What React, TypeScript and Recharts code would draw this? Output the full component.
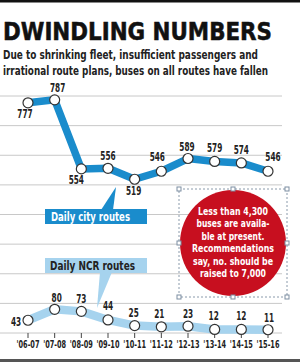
import React from "react";
import { LineChart, Line, XAxis, YAxis, CartesianGrid, LabelList } from "recharts";

const years = ["'06-07", "'07-08", "'08-09", "'09-10", "'10-11", "'11-12", "'12-13", "'13-14", "'14-15", "'15-16"];
const cityRoutes = [777, 787, 554, 556, 519, 546, 589, 579, 574, 546];
const ncrRoutes = [43, 80, 73, 44, 25, 21, 23, 12, 12, 11];
const yTicks = [0, 100, 200, 300, 400, 500, 600, 700, 800];

const data = years.map((year, i) => ({ year, city: cityRoutes[i], ncr: ncrRoutes[i] }));

const FONT = "'Liberation Sans Narrow', 'Arial Narrow', 'DejaVu Sans Condensed', sans-serif";
const CITY_BLUE = "#1a8ccc";
const NCR_BLUE = "#a6d3ee";

// label offsets (styling)
const cityDx = [-3, 3, -5, 0, -1, -4, -1, 0, 0, 5];
const cityDy = [15, -8, 15, -8, 16, -10, -8, -9, -9, -10];
const ncrDx = [-12, 2, 0, 0, -1, -2, 0, -1, 0, 1];
const ncrDy = [6, -7, -8, -10, -9, -9, -8, -9, -9, -8];

const makeLabel = (dx: number[], dy: number[]) => (props: any) => {
  const { x, y, value, index } = props;
  const s = String(value);
  return (
    <text
      x={x + dx[index]}
      y={y + dy[index]}
      textAnchor="middle"
      fontFamily={FONT}
      fontWeight="bold"
      fontSize={11.5}
      fill="#222"
      textLength={s.length * 5.1}
      lengthAdjust="spacingAndGlyphs"
    >
      {s}
    </text>
  );
};

const YearTick = (props: any) => {
  const { x, y, payload } = props;
  return (
    <text x={x} y={y + 8} textAnchor="middle" fontFamily={FONT} fontWeight="bold" fontSize={10}
      fill="#222" textLength={23} lengthAdjust="spacingAndGlyphs">
      {payload.value}
    </text>
  );
};

const noteLines = [
  "Less than 4,300",
  "buses are availa-",
  "ble at present.",
  "Recommendations",
  "say, no. should be",
  "raised to 7,000",
];
const noteWidths = [70, 73, 63, 82, 80, 66];

function Overlay() {
  const handles: [number, number][] = [
    [179, 189], [233, 189], [287, 189],
    [179, 243], [287, 243],
    [179, 297], [233, 297], [287, 297],
  ];
  return (
    <svg width={300} height={362} style={{ position: "absolute", left: 0, top: 0, pointerEvents: "none" }}>
      <rect x={0} y={0} width={300} height={2.5} fill="#111" />
      <rect x={0} y={359} width={300} height={3} fill="#555" />
      <text x={3} y={40} fontFamily={FONT} fontWeight="bold" fontSize={25} fill="#111" stroke="#111" strokeWidth={0.5}
        textLength={269} lengthAdjust="spacingAndGlyphs">DWINDLING NUMBERS</text>
      <text x={3} y={59} fontFamily={FONT} fontWeight="bold" fontSize={11.8} fill="#222"
        textLength={255} lengthAdjust="spacingAndGlyphs">Due to shrinking fleet, insufficient passengers and</text>
      <text x={3} y={75} fontFamily={FONT} fontWeight="bold" fontSize={11.8} fill="#222"
        textLength={265} lengthAdjust="spacingAndGlyphs">irrational route plans, buses on all routes have fallen</text>

      {/* city callout */}
      <polygon points="101,210 113,210 116,187" fill={CITY_BLUE} />
      <rect x={45} y={209} width={102} height={15} fill={CITY_BLUE} />
      <text x={51} y={221} fontFamily={FONT} fontWeight="bold" fontSize={12} fill="#fff"
        textLength={79} lengthAdjust="spacingAndGlyphs">Daily city routes</text>

      {/* NCR callout */}
      <polygon points="100,272 112,272 97,308" fill={NCR_BLUE} />
      <rect x={45} y={258} width={102} height={15} fill={NCR_BLUE} />
      <text x={50} y={270} fontFamily={FONT} fontWeight="bold" fontSize={12} fill="#222"
        textLength={85} lengthAdjust="spacingAndGlyphs">Daily NCR routes</text>

      {/* note */}
      <circle cx={233} cy={243} r={53} fill="#c70f1f" />
      {noteLines.map((t, i) => (
        <text key={i} x={233} y={215 + i * 12.4} textAnchor="middle" fontFamily={FONT} fontWeight="bold"
          fontSize={11.2} fill="#fff" textLength={noteWidths[i]} lengthAdjust="spacingAndGlyphs">{t}</text>
      ))}
      <rect x={179} y={189} width={108} height={108} fill="none" stroke="#8a9aab" strokeWidth={1} strokeDasharray="2 2" />
      {handles.map(([hx, hy], i) => (
        <rect key={i} x={hx - 2} y={hy - 2} width={4} height={4} fill="#fff" stroke="#7c8ea2" strokeWidth={1} />
      ))}
    </svg>
  );
}

export default function App() {
  return (
    <div style={{ position: "absolute", left: 0, top: 0, width: 300, height: 362, background: "#fff" }}>
      <LineChart width={300} height={362} data={data} margin={{ top: 96, right: 18, left: 0, bottom: 0 }}>
        <CartesianGrid vertical={false} stroke="#c8c8c8" strokeWidth={1} />
        <YAxis hide domain={[0, 800]} ticks={yTicks} />
        <XAxis
          dataKey="year"
          interval={0}
          height={29}
          padding={{ left: 28, right: 14 }}
          axisLine={false}
          tickSize={5}
          tickLine={{ stroke: "#444", strokeWidth: 1 }}
          tick={<YearTick />}
        />
        <Line
          dataKey="ncr"
          stroke={NCR_BLUE}
          strokeWidth={8.5}
          isAnimationActive={false}
          dot={{ r: 5, fill: "#fff", stroke: "#333", strokeWidth: 1.2 }}
          strokeLinejoin="round"
        >
          <LabelList dataKey="ncr" content={makeLabel(ncrDx, ncrDy)} />
        </Line>
        <Line
          dataKey="city"
          stroke={CITY_BLUE}
          strokeWidth={7.5}
          isAnimationActive={false}
          dot={{ r: 5, fill: "#fff", stroke: "#333", strokeWidth: 1.2 }}
          strokeLinejoin="round"
        >
          <LabelList dataKey="city" content={makeLabel(cityDx, cityDy)} />
        </Line>
      </LineChart>
      <Overlay />
    </div>
  );
}
